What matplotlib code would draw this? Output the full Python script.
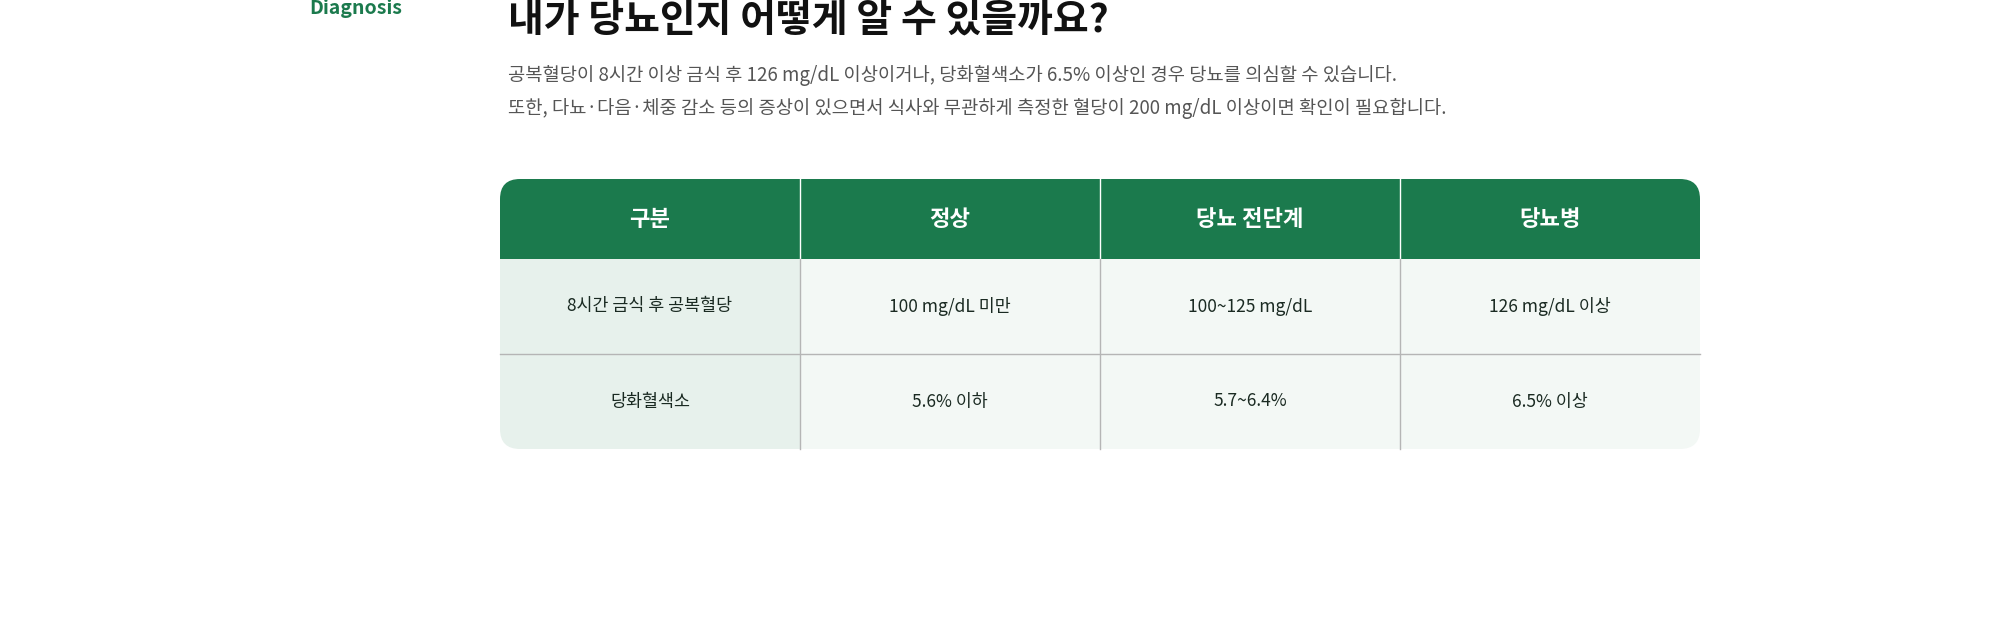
import matplotlib.pyplot as plt
from matplotlib.patches import FancyBboxPatch, Rectangle

plt.rcParams['font.family'] = ['Noto Sans CJK KR', 'DejaVu Sans']

label = "Diagnosis"
title = "내가 당뇨인지 어떻게 알 수 있을까요?"
body = [
    "공복혈당이 8시간 이상 금식 후 126 mg/dL 이상이거나, 당화혈색소가 6.5% 이상인 경우 당뇨를 의심할 수 있습니다.",
    "또한, 다뇨·다음·체중 감소 등의 증상이 있으면서 식사와 무관하게 측정한 혈당이 200 mg/dL 이상이면 확인이 필요합니다.",
]
headers = ["구분", "정상", "당뇨 전단계", "당뇨병"]
rows = [
    ["8시간 금식 후 공복혈당", "100 mg/dL 미만", "100~125 mg/dL", "126 mg/dL 이상"],
    ["당화혈색소", "5.6% 이하", "5.7~6.4%", "6.5% 이상"],
]

GREEN = "#1b7a4d"

fig = plt.figure(figsize=(20, 6.32), dpi=100)
ax = fig.add_axes([0, 0, 1, 1])
ax.set_xlim(0, 2000)
ax.set_ylim(632, 0)
ax.axis("off")

ax.text(309, 9, label, color=GREEN, fontsize=14, fontweight="bold", va="center")
ax.text(508, 20, title, color="#111111", fontsize=28, fontweight="bold", va="center")
for i, line in enumerate(body):
    ax.text(508, 76 + i * 32, line, color="#555555", fontsize=13.5, va="center")

# table geometry
x0, x1 = 500, 1700
y0, yh, y1 = 179, 259, 449
ncol = len(headers)
cw = (x1 - x0) / ncol
rh = (y1 - yh) / len(rows)

clip = FancyBboxPatch((x0, y0), x1 - x0, y1 - y0, boxstyle="round,pad=0,rounding_size=20",
                      facecolor="none", edgecolor="none")
ax.add_patch(clip)

patches = [Rectangle((x0, y0), x1 - x0, yh - y0, facecolor=GREEN, edgecolor="none")]
for r in range(len(rows)):
    for c in range(ncol):
        fc = "#e7f1ec" if c == 0 else "#f3f8f5"
        patches.append(Rectangle((x0 + c * cw, yh + r * rh), cw, rh, facecolor=fc, edgecolor="none"))
for p in patches:
    ax.add_patch(p)
    p.set_clip_path(clip)

for c in range(1, ncol):
    ax.plot([x0 + c * cw] * 2, [y0, yh], color="#ffffff", lw=1)
    ax.plot([x0 + c * cw] * 2, [yh, y1], color="#b5b5b5", lw=1)
for r in range(1, len(rows)):
    ax.plot([x0, x1], [yh + r * rh] * 2, color="#b5b5b5", lw=1)

for c, h in enumerate(headers):
    ax.text(x0 + (c + 0.5) * cw, (y0 + yh) / 2, h, color="white", fontsize=16,
            fontweight="bold", ha="center", va="center")
for r, row in enumerate(rows):
    for c, val in enumerate(row):
        ax.text(x0 + (c + 0.5) * cw, yh + (r + 0.5) * rh, val, color="#1a2a22",
                fontsize=12.5, fontweight="medium", ha="center", va="center")

fig.savefig("out.png", dpi=100, facecolor="white")
